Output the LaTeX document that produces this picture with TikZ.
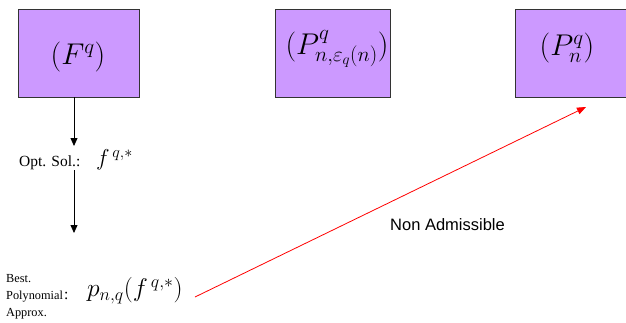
\RequirePackage{fix-cm}
\documentclass[tikz,border=0pt]{standalone}
\usepackage{fontspec}
\setmainfont{Liberation Serif}
\newfontfamily\arialfont{Liberation Sans}
\usetikzlibrary{arrows.meta}
\definecolor{boxfill}{HTML}{CC99FF}
\tikzset{
  pbox/.style={draw=black!80, fill=boxfill, line width=0.8pt, inner sep=0pt, anchor=north west},
  flow/.style={draw=black, line width=0.8pt, -{Triangle[length=8pt,width=7pt]}},
  lbl/.style={font=\fontsize{15.5}{18}\selectfont, inner sep=0pt},
  boxmath/.style={font=\fontsize{30}{34}\selectfont, inner sep=0pt},
  midmath/.style={font=\fontsize{23}{26}\selectfont, inner sep=0pt},
}
\begin{document}
\begin{tikzpicture}[x=1pt,y=-1pt]
\useasboundingbox (0,0) rectangle (626,322);
\node[pbox, minimum width=121pt, minimum height=88pt] (b1) at (18,9) {};
\node[boxmath] (t1) at (78,57) {$(F^{q})$};
\node[pbox, minimum width=115pt, minimum height=88pt] (b2) at (275,9) {};
\node[boxmath] (t2) at (337,49) {$(P^{q}_{n,\varepsilon_q(n)})$};
\node[pbox, minimum width=112pt, minimum height=88pt] (b3) at (515,9) {};
\node[boxmath] (t3) at (567,48) {$(P^{q}_{n})$};
\coordinate (a1s) at (74,97);
\coordinate (a1e) at (74,146);
\draw[flow] (a1s) -- (a1e);
\node[lbl, anchor=west] (opt) at (19,163) {Opt. Sol.:};
\node[midmath, anchor=west] (fq) at (96,160) {$f^{\,q,*}$};
\coordinate (a2s) at (74,170);
\coordinate (a2e) at (74,233);
\draw[flow] (a2s) -- (a2e);
\node[lbl, anchor=west, align=left, font=\fontsize{12.3}{17}\selectfont] (best) at (6,297) {Best.\\Polynomial\\Approx.};
\node[lbl, anchor=west] (colon) at (64,296) {:};
\node[font=\fontsize{25.5}{28}\selectfont, inner sep=0pt, anchor=west] (pnq) at (87,291) {$p_{n,q}(f^{\,q,*})$};
\coordinate (rs) at (195,297);
\coordinate (re) at (586,107);
\draw[red, line width=0.8pt, -{Triangle[length=9pt,width=7pt]}] (rs) -- (re);
\node[font=\arialfont\fontsize{16.5}{19}\selectfont, inner sep=0pt, anchor=west] (na) at (390,225) {Non Admissible};
\end{tikzpicture}
\end{document}
